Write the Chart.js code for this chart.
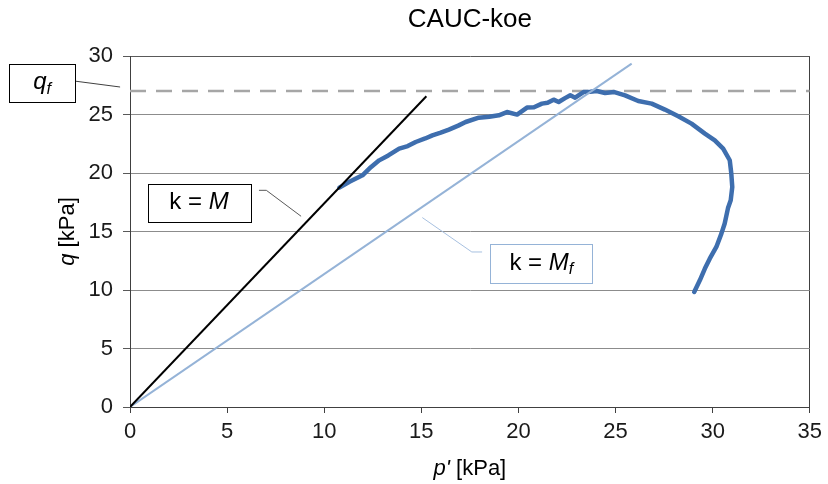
<!DOCTYPE html>
<html lang="en">
<head>
	<meta charset="UTF-8">
	<title>CAUC-koe</title>
	<script src="https://cdn.jsdelivr.net/npm/chart.js"></script>
	<style>
		html, body { margin: 0; padding: 0; background: #fff; }
		#wrap { width: 828px; height: 484px; }
	</style>
</head>
<body>
	<div id="wrap"><canvas id="chart"></canvas></div>

	<script>
		// Measured stress path (p', q) in kPa
		const pathP = [10.78, 11.3, 11.97, 12.4, 12.83, 13.3, 13.86, 14.3, 14.71, 15.2, 15.57, 16.0, 16.42, 16.9, 17.28, 17.96, 18.5, 18.99, 19.41, 19.93, 20.44, 20.8, 21.21, 21.5, 21.81, 22.07, 22.4, 22.67, 22.92, 23.35, 23.7, 24.03, 24.46, 24.94, 25.49, 26.17, 26.86, 27.54, 28.23, 28.91, 29.6, 30.11, 30.54, 30.88, 30.96, 31.01, 30.93, 30.79, 30.62, 30.45, 30.19, 29.85, 29.6, 29.34, 29.05];
		const pathQ = [18.75, 19.25, 19.8, 20.5, 21.08, 21.5, 22.08, 22.3, 22.65, 22.95, 23.22, 23.45, 23.71, 24.05, 24.36, 24.73, 24.8, 24.93, 25.21, 24.99, 25.59, 25.62, 25.93, 26.0, 26.27, 26.07, 26.4, 26.64, 26.44, 26.92, 26.95, 27.01, 26.84, 26.92, 26.64, 26.15, 25.93, 25.42, 24.85, 24.22, 23.37, 22.79, 22.08, 21.09, 19.95, 18.8, 17.67, 17.0, 15.68, 14.82, 13.68, 12.68, 11.83, 10.83, 9.83];

		// k = M line and k = Mf line (end points)
		const lineMP = [0, 15.26];
		const lineMQ = [0, 26.56];
		const lineMfP = [0, 25.83];
		const lineMfQ = [0, 29.35];

		// failure deviator stress q_f
		const qfP = [0, 35];
		const qfQ = [27, 27];

		const xTicks = [0, 5, 10, 15, 20, 25, 30, 35];
		const yTicks = [0, 5, 10, 15, 20, 25, 30];

		const FONT = "'Liberation Sans', Arial, sans-serif";

		const pairs = (xs, ys) => xs.map((x, i) => ({ x: x, y: ys[i] }));

		// draws a string made of plain / italic / subscript parts, centred on (cx, cy)
		function richText(ctx, parts, cx, cy, size, color) {
			const fontOf = p => (p.italic ? 'italic ' : '') + (p.sub ? size * 0.68 : size) + 'px ' + FONT;
			let total = 0;
			parts.forEach(p => { ctx.font = fontOf(p); total += ctx.measureText(p.t).width; });
			let x = cx - total / 2;
			ctx.fillStyle = color;
			ctx.textBaseline = 'middle';
			ctx.textAlign = 'left';
			parts.forEach(p => {
				ctx.font = fontOf(p);
				ctx.fillText(p.t, x, p.sub ? cy + size * 0.28 : cy);
				x += ctx.measureText(p.t).width;
			});
		}

		const decor = {
			id: 'decor',
			afterDraw(chart) {
				const ctx = chart.ctx;
				const xs = chart.scales.x, ys = chart.scales.y;
				const X = v => xs.getPixelForValue(v), Y = v => ys.getPixelForValue(v);
				const area = chart.chartArea;
				ctx.save();

				// title
				ctx.font = '26px ' + FONT;
				ctx.fillStyle = '#000';
				ctx.textAlign = 'center';
				ctx.textBaseline = 'alphabetic';
				ctx.fillText('CAUC-koe', (area.left + area.right) / 2, 27);

				// axis titles
				richText(ctx, [{ t: "p'", italic: true }, { t: ' [kPa]' }], (area.left + area.right) / 2, 469, 22, '#000');
				ctx.save();
				ctx.translate(68, (area.top + area.bottom) / 2);
				ctx.rotate(-Math.PI / 2);
				richText(ctx, [{ t: 'q', italic: true }, { t: ' [kPa]' }], 0, 0, 22, '#000');
				ctx.restore();

				// callout boxes with leader lines
				const box = (x0, y0, x1, y1, stroke) => {
					ctx.fillStyle = '#fff';
					ctx.fillRect(X(x0), Y(y0), X(x1) - X(x0), Y(y1) - Y(y0));
					ctx.strokeStyle = stroke;
					ctx.lineWidth = 1;
					ctx.strokeRect(Math.round(X(x0)) + 0.5, Math.round(Y(y0)) + 0.5, Math.round(X(x1) - X(x0)), Math.round(Y(y1) - Y(y0)));
				};
				const leader = (pts, stroke) => {
					ctx.strokeStyle = stroke;
					ctx.lineWidth = 1;
					ctx.beginPath();
					pts.forEach((p, i) => i ? ctx.lineTo(X(p[0]), Y(p[1])) : ctx.moveTo(X(p[0]), Y(p[1])));
					ctx.stroke();
				};

				leader([[-2.82, 27.85], [-0.51, 27.35]], '#404040');
				box(-6.21, 29.29, -2.82, 26.04, '#000');
				richText(ctx, [{ t: 'q', italic: true }, { t: 'f', italic: true, sub: true }], X(-4.52), Y(27.75), 24, '#000');

				leader([[6.64, 18.52], [7.02, 18.52], [8.81, 16.3]], '#595959');
				box(0.91, 19.09, 6.19, 15.85, '#000');
				richText(ctx, [{ t: 'k = ' }, { t: 'M', italic: true }], X(3.55), Y(17.47), 24, '#000');

				leader([[18.13, 13.25], [17.6, 13.25], [15.05, 16.19]], '#a7c0e0');
				box(18.56, 13.91, 23.8, 10.57, '#95b3d7');
				richText(ctx, [{ t: 'k = ' }, { t: 'M', italic: true }, { t: 'f', italic: true, sub: true }], X(21.18), Y(12.3), 24, '#000');

				ctx.restore();
			}
		};

		new Chart(document.getElementById('chart'), {
			type: 'scatter',
			data: {
				datasets: [
					{ data: pairs(qfP, qfQ), showLine: true, borderColor: '#a6a6a6', borderWidth: 2.5, borderDash: [16, 10], pointRadius: 0, order: 4 },
					{ data: pairs(pathP, pathQ), showLine: true, borderColor: '#3e6eae', borderWidth: 4.5, pointRadius: 0, order: 3, borderJoinStyle: 'round', borderCapStyle: 'round' },
					{ data: pairs(lineMfP, lineMfQ), showLine: true, borderColor: '#95b3d7', borderWidth: 2, pointRadius: 0, order: 2 },
					{ data: pairs(lineMP, lineMQ), showLine: true, borderColor: '#000', borderWidth: 2, pointRadius: 0, order: 1 }
				]
			},
			options: {
				responsive: true,
				maintainAspectRatio: false,
				animation: false,
				layout: { padding: { left: 0, right: 16, top: 56, bottom: 0 } },
				plugins: { legend: { display: false }, tooltip: { enabled: false }, title: { display: false } },
				scales: {
					x: {
						type: 'linear', min: 0, max: 35,
						afterBuildTicks: s => { s.ticks = xTicks.map(v => ({ value: v })); },
						afterFit: s => { s.height = 77; },
						border: { display: true, color: '#404040', width: 1 },
						grid: {
							color: c => c.tick && c.tick.value === 35 ? '#404040' : 'rgba(0,0,0,0)',
							tickColor: '#404040', tickLength: 6, lineWidth: 1
						},
						ticks: { font: { family: FONT, size: 22 }, color: '#1a1a1a', padding: 6, maxRotation: 0 }
					},
					y: {
						type: 'linear', min: 0, max: 30,
						afterBuildTicks: s => { s.ticks = yTicks.map(v => ({ value: v })); },
						afterFit: s => { s.width = 130; },
						border: { display: true, color: '#404040', width: 1 },
						grid: {
							color: c => c.tick && c.tick.value === 30 ? '#595959' : '#8c8c8c',
							tickColor: '#595959', tickLength: 7, lineWidth: 1
						},
						ticks: { font: { family: FONT, size: 22 }, color: '#1a1a1a', padding: 10 }
					}
				}
			},
			plugins: [decor]
		});
	</script>
</body>
</html>
